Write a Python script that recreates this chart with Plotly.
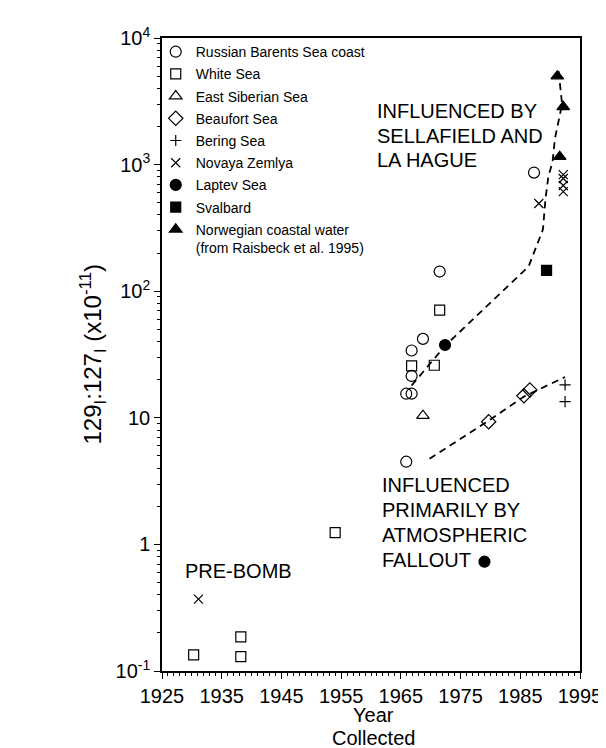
import plotly.graph_objects as go

# ---------------- data ----------------
barents_year = [1971.5, 1968.7, 1966.8, 1966.8, 1965.9, 1966.8, 1965.9, 1987.3]
barents_val = [143, 42, 34, 21.4, 15.5, 15.5, 4.5, 865]

white_year = [1930.3, 1938.2, 1938.2, 1954.0, 1971.5, 1966.8, 1970.6]
white_val = [0.134, 0.186, 0.13, 1.24, 71, 25.7, 26]

esib_year = [1968.7]
esib_val = [10.4]

beaufort_year = [1979.7, 1985.6, 1986.6]
beaufort_val = [9.3, 14.9, 16.6]

bering_year = [1992.5, 1992.5]
bering_val = [18.2, 13.4]

novaya_year = [1931.1, 1988.1, 1992.2, 1992.2, 1992.2, 1992.2]
novaya_val = [0.37, 493, 834, 776, 684, 612]

laptev_year = [1972.4, 1979.0]
laptev_val = [37.6, 0.73]

svalbard_year = [1989.4]
svalbard_val = [146]

norway_year = [1991.2, 1992.2, 1991.6]
norway_val = [5000, 2860, 1155]

# dashed trend lines
upper_year = [1966.8, 1972.4, 1986.4, 1988.8, 1989.2, 1989.7, 1990.4, 1990.8, 1992.0, 1991.4]
upper_val = [18, 37, 157, 308, 525, 805, 1050, 1600, 3000, 5600]
lower_year = [1969.8, 1979.7, 1985.6, 1992.5]
lower_val = [4.75, 9.5, 14.7, 21]

year_ticks = [1925, 1935, 1945, 1955, 1965, 1975, 1985, 1995]
y_ticks = [0.1, 1, 10, 100, 1000, 10000]
y_ticktext = ["10<sup>-1</sup>", "1", "10", "10<sup>2</sup>", "10<sup>3</sup>", "10<sup>4</sup>"]

series = [
    ("Russian Barents Sea coast", barents_year, barents_val, "circle-open", 11),
    ("White Sea", white_year, white_val, "square-open", 10),
    ("East Siberian Sea", esib_year, esib_val, "triangle-up-open", 11),
    ("Beaufort Sea", beaufort_year, beaufort_val, "diamond-open", 11),
    ("Bering Sea", bering_year, bering_val, "cross-thin-open", 8),
    ("Novaya Zemlya", novaya_year, novaya_val, "x-thin-open", 9),
    ("Laptev Sea", laptev_year, laptev_val, "circle", 11),
    ("Svalbard", svalbard_year, svalbard_val, "square", 10),
    ("Norwegian coastal water<br>(from Raisbeck et al. 1995)", norway_year, norway_val, "triangle-up", 11),
]

FONT = "Liberation Sans, Arial, Helvetica, sans-serif"

fig = go.Figure()

fig.add_trace(go.Scatter(x=upper_year, y=upper_val, mode="lines", showlegend=False,
                         line=dict(color="black", width=1.8, dash="7px,5px"), hoverinfo="skip"))
fig.add_trace(go.Scatter(x=lower_year, y=lower_val, mode="lines", showlegend=False,
                         line=dict(color="black", width=1.8, dash="7px,5px"), hoverinfo="skip"))

for i, (name, xs, ys, sym, sz) in enumerate(series):
    fig.add_trace(go.Scatter(
        x=xs, y=ys, mode="markers", name=name, legendgroup=f"g{i}",
        marker=dict(symbol=sym, size=sz, color="black",
                    line=dict(color="black", width=1.2)),
    ))

annots = [
    ("INFLUENCED BY", 1960.7, 3.423),
    ("SELLAFIELD AND", 1960.7, 3.226),
    ("LA HAGUE", 1960.7, 3.036),
    ("INFLUENCED", 1961.5, 0.469),
    ("PRIMARILY BY", 1961.5, 0.272),
    ("ATMOSPHERIC", 1961.5, 0.074),
    ("FALLOUT", 1961.5, -0.123),
    ("PRE-BOMB", 1928.5, -0.21),
]
for txt, ax_, ay_ in annots:
    fig.add_annotation(x=ax_, y=ay_, xref="x", yref="y", text=txt, showarrow=False,
                       xanchor="left", yanchor="middle",
                       font=dict(family=FONT, size=20, color="black"))

# axis titles as annotations
fig.add_annotation(x=1960.5, y=-1, xref="x", yref="y", yshift=-44, text="Year",
                   showarrow=False, yanchor="middle", font=dict(family=FONT, size=20, color="black"))
fig.add_annotation(x=1960.5, y=-1, xref="x", yref="y", yshift=-67, text="Collected",
                   showarrow=False, yanchor="middle", font=dict(family=FONT, size=20, color="black"))
fig.add_annotation(x=0.0, y=0.5, xref="paper", yref="paper", xshift=-70,
                   text="129<sub>I</sub>:127<sub>I</sub> (x10<sup>-11</sup>)",
                   textangle=-90, showarrow=False, xanchor="center", yanchor="middle",
                   font=dict(family=FONT, size=24, color="black"))

minor_y = [k * 10 ** e for e in range(-1, 4) for k in range(2, 10)]

fig.update_xaxes(range=[1925, 1995], tickvals=year_ticks, ticks="outside", ticklen=6,
                 tickwidth=1.2, tickcolor="black", showline=True, linecolor="black",
                 linewidth=1.5, mirror=True, showgrid=False, zeroline=False,
                 tickfont=dict(family=FONT, size=20, color="black"),
                 minor=dict(dtick=1, ticks="outside", ticklen=3, tickcolor="black", tickwidth=1))
fig.update_yaxes(type="log", range=[-1, 4], tickvals=y_ticks, ticktext=y_ticktext,
                 ticks="outside", ticklen=6, tickwidth=1.2, tickcolor="black",
                 showline=True, linecolor="black", linewidth=1.5, mirror=True,
                 showgrid=False, zeroline=False,
                 tickfont=dict(family=FONT, size=20, color="black"),
                 minor=dict(tickvals=minor_y, ticks="outside", ticklen=3, tickcolor="black", tickwidth=1))

fig.update_layout(
    width=606, height=748,
    margin=dict(l=154, r=28, t=30, b=85),
    paper_bgcolor="white", plot_bgcolor="white",
    font=dict(family=FONT, color="black"),
    legend=dict(x=-0.015, y=1.003, xanchor="left", yanchor="top", valign="top",
                bgcolor="rgba(0,0,0,0)", borderwidth=0,
                traceorder="grouped", tracegroupgap=1,
                font=dict(family=FONT, size=14, color="black")),
    showlegend=True,
)

fig.write_html("out.html")
